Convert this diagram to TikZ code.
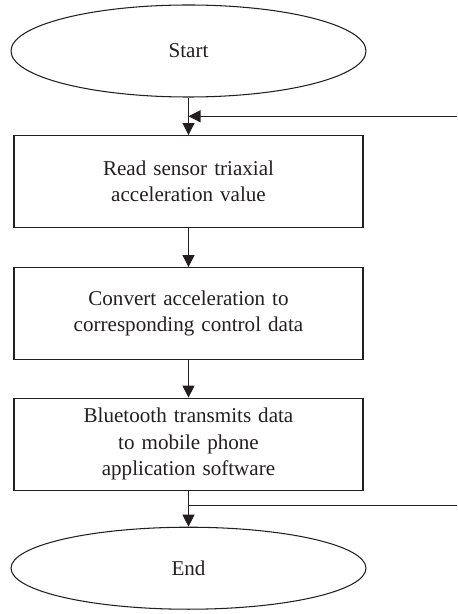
\documentclass[tikz,border=0pt]{standalone}
\usepackage{xcolor}
\usepackage{fontspec}
\setmainfont{Liberation Serif}
\usepackage{tikz}
\usetikzlibrary{shapes.geometric,arrows.meta,positioning,calc}

\definecolor{linegray}{HTML}{231F20}

\begin{document}
\begin{tikzpicture}[
    node distance=0.75cm,
    terminal/.style={ellipse, draw=linegray, line width=0.6pt, minimum width=7.1cm, minimum height=1.84cm, inner sep=0pt, text=linegray, font=\fontsize{12}{15}\selectfont},
    process/.style={rectangle, draw=linegray, line width=0.6pt, minimum width=6.98cm, minimum height=1.84cm, text width=6cm, align=center, text=linegray, font=\fontsize{12}{15}\selectfont},
    arrow/.style={-{Triangle[length=0.24cm,width=0.24cm]}, line width=0.6pt, draw=linegray},
    link/.style={line width=0.6pt, draw=linegray}
]
\useasboundingbox (0,0) rectangle (9.14,-12.28);
\coordinate (edge) at (9.14,0);

\node[terminal] (start) at (3.77,-1.02) {Start};

\node[process, below=of start] (read) {
    Read sensor triaxial\\
    acceleration value
};

\node[process, below=0.78cm of read] (convert) {
    Convert acceleration to\\
    corresponding control data
};

\node[process, below=of convert] (send) {
    Bluetooth transmits data\\
    to mobile phone\\
    application software
};

\node[terminal, below=0.72cm of send, minimum height=1.64cm] (end) {End};

\draw[arrow] (start) -- (read);
\draw[arrow] (read) -- (convert);
\draw[arrow] (convert) -- (send);
\draw[arrow] (send) -- (end);

% loop lines to the right
\coordinate (joinin) at ($(start.south)!0.5!(read.north)$);
\coordinate (joinout) at ($(send.south)!0.4!(end.north)$);
\draw[arrow] (joinin -| edge) -- (joinin);
\draw[link] (joinout) -- (joinout -| edge);

\end{tikzpicture}
\end{document}
